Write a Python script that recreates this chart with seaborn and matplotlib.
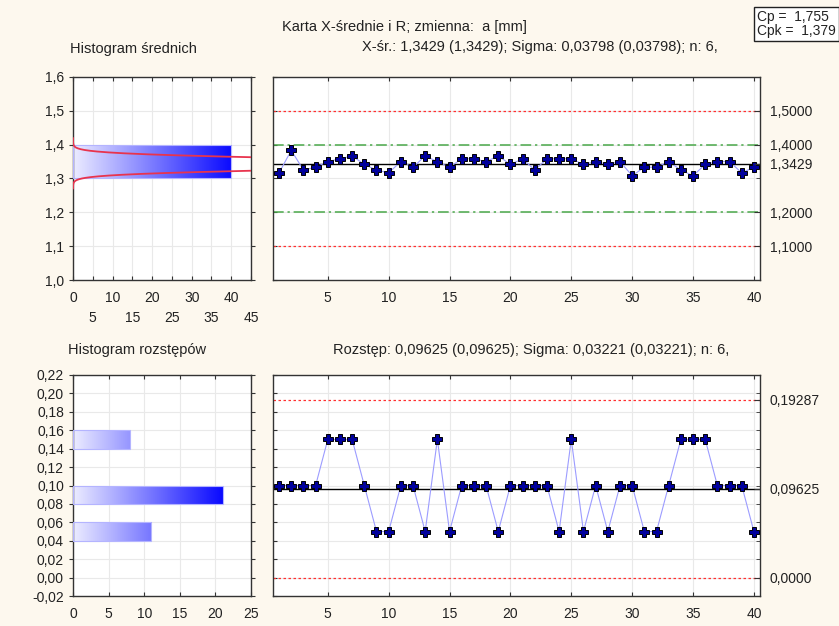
import numpy as np
import pandas as pd
import matplotlib
matplotlib.use("Agg")
import matplotlib.pyplot as plt
from matplotlib.colors import LinearSegmentedColormap
from matplotlib.ticker import FixedLocator, MultipleLocator, FuncFormatter
import seaborn as sns

sns.set_style("ticks")
plt.rcParams['font.family'] = ['Liberation Sans', 'DejaVu Sans']
plt.rcParams['font.size'] = 10

# --- data ---
sample_no = list(range(1, 41))
xbar_values = [1.3167, 1.3833, 1.3250, 1.3333, 1.3500, 1.3583, 1.3667, 1.3417, 1.3250, 1.3167,
               1.3500, 1.3333, 1.3667, 1.3500, 1.3333, 1.3583, 1.3583, 1.3500, 1.3667, 1.3417,
               1.3583, 1.3250, 1.3583, 1.3583, 1.3583, 1.3417, 1.3500, 1.3417, 1.3500, 1.3083,
               1.3333, 1.3333, 1.3500, 1.3250, 1.3083, 1.3417, 1.3500, 1.3500, 1.3167, 1.3333]
range_values = [0.10, 0.10, 0.10, 0.10, 0.15, 0.15, 0.15, 0.10, 0.05, 0.05,
                0.10, 0.10, 0.05, 0.15, 0.05, 0.10, 0.10, 0.10, 0.05, 0.10,
                0.10, 0.10, 0.10, 0.05, 0.15, 0.05, 0.10, 0.05, 0.10, 0.10,
                0.05, 0.05, 0.10, 0.15, 0.15, 0.15, 0.10, 0.10, 0.10, 0.05]

mean_hist_mid = [1.35]
mean_hist_count = [40]
range_hist_mid = [0.05, 0.09, 0.15]
range_hist_count = [11, 21, 8]

x_center = 1.3429
x_sigma = 0.03798
n_size = 6
x_spec = [1.1, 1.5]
x_warn = [1.2, 1.4]
r_center = 0.09625
r_sigma = 0.03221
r_ucl = 0.19287
r_lcl = 0.0
cp, cpk = 1.755, 1.379

BG = '#fdf8ee'
TXT = '#222222'
bar_cmap = LinearSegmentedColormap.from_list('bars', ['#ececff', '#0a0aff'])


def comma(fmt):
    return FuncFormatter(lambda v, p: (fmt % (round(v, 6) + 0.0)).replace('.', ','))


def pl(v, fmt):
    return (fmt % v).replace('.', ',')


def style_axes(ax):
    for s in ax.spines.values():
        s.set_color('#333333')
        s.set_linewidth(1.0)
    ax.grid(True, color='#e9e9e9', lw=0.8)
    ax.set_axisbelow(True)
    ax.set_xlabel('')
    ax.set_ylabel('')
    ax.tick_params(colors='#333333', labelcolor=TXT, labelsize=10, length=3)
    ax.tick_params(axis='x', pad=8)


def gradient_bars(ax, vmax):
    grad = np.linspace(0, 1, 256).reshape(1, -1)
    for p in list(ax.patches):
        if p.get_width() <= 0:
            p.set_visible(False)
            continue
        y0, h = p.get_y(), p.get_height()
        im = ax.imshow(grad, extent=[0, vmax, y0, y0 + h], aspect='auto',
                       cmap=bar_cmap, origin='lower', zorder=2)
        im.set_clip_path(p)
        p.set_facecolor('none')
        p.set_edgecolor('#b4b4ff')
        p.set_linewidth(0.8)
        p.set_zorder(3)


def hist_bars(ax, mids, counts, edges):
    df = pd.DataFrame({'mid': mids, 'count': counts})
    sns.histplot(data=df, y='mid', weights='count', bins=[float(e) for e in edges], ax=ax)
    gradient_bars(ax, max(counts))


def draw_mean_hist(ax):
    edges = np.round(np.arange(1.0, 1.601, 0.1), 2)
    hist_bars(ax, mean_hist_mid, mean_hist_count, edges)
    sd = x_sigma / np.sqrt(n_size)
    yy = np.linspace(1.27, 1.42, 400)
    xx = sum(mean_hist_count) * 0.1 * np.exp(-0.5 * ((yy - x_center) / sd) ** 2) / (sd * np.sqrt(2 * np.pi))
    ax.plot(xx, yy, color='#e8344e', lw=1.3, zorder=4)
    ax.set_xlim(0, 45)
    ax.set_ylim(1.0, 1.6)
    ax.set_xticks(np.arange(0, 46, 5))
    ax.set_xticklabels([str(v) if v % 10 == 0 else '\n' + str(v) for v in range(0, 46, 5)])
    for lab in ax.get_xticklabels():
        lab.set_linespacing(1.5)
    ax.set_yticks(np.round(np.arange(1.0, 1.61, 0.1), 2))
    ax.yaxis.set_major_formatter(comma('%.1f'))
    style_axes(ax)
    ax.tick_params(right=True, top=True, direction='in', which='both')
    ax.tick_params(axis='y', left=True, direction='out')


def draw_range_hist(ax):
    edges = np.round(np.arange(-0.02, 0.2201, 0.02), 4)
    hist_bars(ax, range_hist_mid, range_hist_count, edges)
    ax.set_xlim(0, 25)
    ax.set_ylim(-0.02, 0.22)
    ax.set_xticks(np.arange(0, 26, 5))
    ax.set_yticks(edges)
    ax.yaxis.set_major_formatter(comma('%.2f'))
    style_axes(ax)
    ax.tick_params(right=True, top=True, direction='in', which='both')
    ax.tick_params(axis='y', left=True, direction='out')


def draw_control(ax, values, ylim, ystep, limits, label_fmt):
    ax.axhline(limits['center'], color='black', lw=1.0, zorder=2)
    for v in limits.get('red', []):
        ax.axhline(v, color='#ff3030', lw=0.9, ls=(0, (2, 2)), zorder=2)
    for v in limits.get('green', []):
        ax.axhline(v, color='#4aa84a', lw=1.1, ls=(0, (7, 2.5, 1.5, 2.5)), zorder=2)
    sns.lineplot(x=sample_no, y=values, ax=ax, color='#9c9cff', lw=0.8, marker='P',
                 markersize=7, markerfacecolor='#00009c', markeredgecolor='black',
                 markeredgewidth=0.7, zorder=3)
    ax.set_xlim(0.5, 40.5)
    ax.set_ylim(*ylim)
    ax.set_xticks(np.arange(5, 41, 5))
    ax.yaxis.set_major_locator(MultipleLocator(ystep))
    style_axes(ax)
    ax.tick_params(axis='y', labelleft=False, direction='in')
    ax.tick_params(axis='x', direction='in', top=True)
    axr = ax.twinx()
    axr.set_ylim(*ylim)
    axr.yaxis.set_major_locator(FixedLocator(limits['labels']))
    axr.yaxis.set_major_formatter(FuncFormatter(label_fmt))
    axr.yaxis.set_minor_locator(MultipleLocator(ystep))
    axr.tick_params(which='both', direction='in', colors='#333333', labelcolor=TXT, labelsize=10)
    axr.tick_params(which='major', length=4, pad=7)
    axr.tick_params(which='minor', length=3)
    for s in axr.spines.values():
        s.set_visible(False)


if __name__ == "__main__":
    W, H = 839, 626
    fig = plt.figure(figsize=(W / 100, H / 100), dpi=100, facecolor=BG)

    def box(l, t, r, b):
        return [l / W, 1 - b / H, (r - l) / W, (b - t) / H]

    ax_h1 = fig.add_axes(box(73, 77, 251, 280))
    ax_c1 = fig.add_axes(box(273, 77, 760, 280))
    ax_h2 = fig.add_axes(box(73, 375, 251, 596))
    ax_c2 = fig.add_axes(box(273, 375, 760, 596))

    draw_mean_hist(ax_h1)
    draw_range_hist(ax_h2)
    draw_control(ax_c1, xbar_values, (1.0, 1.6), 0.1,
                 {'center': x_center, 'red': x_spec, 'green': x_warn,
                  'labels': [1.1, 1.2, x_center, 1.4, 1.5]},
                 lambda v, p: pl(v, '%.4f'))
    draw_control(ax_c2, range_values, (-0.02, 0.22), 0.02,
                 {'center': r_center, 'red': [r_ucl, r_lcl], 'labels': [r_lcl, r_center, r_ucl]},
                 lambda v, p: '0,0000' if abs(v) < 1e-9 else pl(v, '%.5f'))

    fig.text(282 / W, 1 - 27 / H, 'Karta X-średnie i R; zmienna:  a [mm]', ha='left', va='center',
             fontsize=10.5, color=TXT)
    fig.text(362 / W, 1 - 47 / H,
             'X-śr.: %s (%s); Sigma: %s (%s); n: %d,' % (
                 pl(x_center, '%.4f'), pl(x_center, '%.4f'),
                 pl(x_sigma, '%.5f'), pl(x_sigma, '%.5f'), n_size),
             ha='left', va='center', fontsize=10.5, color=TXT)
    fig.text(70 / W, 1 - 49 / H, 'Histogram średnich', ha='left', va='center', fontsize=10.5, color=TXT)
    fig.text(68 / W, 1 - 350 / H, 'Histogram rozstępów', ha='left', va='center', fontsize=10.5, color=TXT)
    fig.text(333 / W, 1 - 350 / H,
             'Rozstęp: %s (%s); Sigma: %s (%s); n: %d,' % (
                 pl(r_center, '%.5f'), pl(r_center, '%.5f'),
                 pl(r_sigma, '%.5f'), pl(r_sigma, '%.5f'), n_size),
             ha='left', va='center', fontsize=10.5, color=TXT)
    fig.text(757 / W, 1 - 24 / H,
             'Cp =  %s\nCpk =  %s' % (pl(cp, '%.3f'), pl(cpk, '%.3f')),
             ha='left', va='center', fontsize=10, color=TXT, linespacing=0.95,
             bbox=dict(boxstyle='square,pad=0.22', facecolor='white', edgecolor='#222222', lw=1.0))

    fig.savefig('out.png', dpi=100, facecolor=BG)
